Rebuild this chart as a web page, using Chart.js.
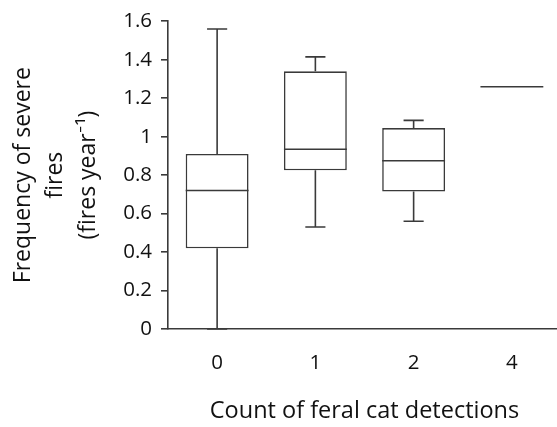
<!DOCTYPE html>
<html>
<head>
<meta charset="utf-8">
<script src="https://cdn.jsdelivr.net/npm/chart.js@4/dist/chart.umd.min.js"></script>
<style>
  html, body { margin: 0; padding: 0; background: #fff; overflow: hidden; }
  #wrap { width: 561px; height: 427px; }
</style>
</head>
<body>
<div id="wrap"><canvas id="box"></canvas></div>
<script>
// ---------- data ----------
const categories = ['0', '1', '2', '4'];
const minVals    = [0.00, 0.53, 0.56, 1.26];
const q1Vals     = [0.42, 0.825, 0.715, 1.26];
const medianVals = [0.72, 0.935, 0.875, 1.26];
const q3Vals     = [0.91, 1.34, 1.045, 1.26];
const maxVals    = [1.56, 1.415, 1.085, 1.26];
const yTickLabels = ['0', '0.2', '0.4', '0.6', '0.8', '1', '1.2', '1.4', '1.6'];

const lineCol = '#3a3a3a';
const txtCol = '#111';
const fontFam = '"Open Sans", Lato, sans-serif';

// whiskers + medians drawn on top of the floating bars
const boxPlugin = {
  id: 'boxParts',
  afterDatasetsDraw(chart){
    const ctx = chart.ctx;
    const y = chart.scales.y;
    const meta = chart.getDatasetMeta(0);
    ctx.save();
    ctx.strokeStyle = lineCol;
    ctx.lineWidth = 1.6;
    meta.data.forEach((bar, i) => {
      const cx = bar.x, half = bar.width / 2, cap = bar.width * 0.16;
      const pMin = y.getPixelForValue(minVals[i]);
      const pQ1 = y.getPixelForValue(q1Vals[i]);
      const pMed = y.getPixelForValue(medianVals[i]);
      const pQ3 = y.getPixelForValue(q3Vals[i]);
      const pMax = y.getPixelForValue(maxVals[i]);
      ctx.beginPath();
      // upper whisker
      ctx.moveTo(cx, pQ3); ctx.lineTo(cx, pMax);
      ctx.moveTo(cx - cap, pMax); ctx.lineTo(cx + cap, pMax);
      // lower whisker
      ctx.moveTo(cx, pQ1); ctx.lineTo(cx, pMin);
      ctx.moveTo(cx - cap, pMin); ctx.lineTo(cx + cap, pMin);
      // median
      ctx.moveTo(cx - half, pMed); ctx.lineTo(cx + half, pMed);
      ctx.stroke();
    });
    ctx.restore();
  }
};

new Chart(document.getElementById('box'), {
  type: 'bar',
  data: {
    labels: categories,
    datasets: [{
      data: categories.map((c, i) => [q1Vals[i], q3Vals[i]]),
      backgroundColor: '#fff',
      borderColor: lineCol,
      borderWidth: 1.6,
      borderSkipped: false,
      barPercentage: 0.64,
      categoryPercentage: 1
    }]
  },
  options: {
    responsive: true,
    maintainAspectRatio: false,
    animation: false,
    layout: { padding: { top: 16, left: 0, right: 0, bottom: 0 } },
    plugins: { legend: { display: false }, tooltip: { enabled: false } },
    scales: {
      x: {
        grid: { display: false },
        border: { display: true, color: lineCol, width: 1.6 },
        ticks: { color: txtCol, font: { family: fontFam, size: 20.5 }, padding: 14 },
        title: {
          display: true, text: 'Count of feral cat detections', color: txtCol,
          font: { family: fontFam, size: 23.5 }, padding: { top: 0, bottom: 2 }
        },
        afterFit(scale){ scale.height = 98; }
      },
      y: {
        min: 0, max: 1.6,
        ticks: {
          stepSize: 0.2, color: txtCol, padding: 9,
          font: { family: fontFam, size: 20.5 },
          callback: (v, i) => yTickLabels[i]
        },
        grid: { drawOnChartArea: false, tickLength: 7, color: lineCol, lineWidth: 1.6 },
        border: { display: true, color: lineCol, width: 1.6 },
        title: {
          display: true,
          text: ['Frequency of severe', 'fires', '(fires year\u207B\u00B9)'],
          color: txtCol,
          font: { family: fontFam, size: 23, lineHeight: 1.41 },
          padding: { top: 7, bottom: 0 }
        },
        afterFit(scale){ scale.width = 168; }
      }
    }
  },
  plugins: [boxPlugin]
});
</script>
</body>
</html>
